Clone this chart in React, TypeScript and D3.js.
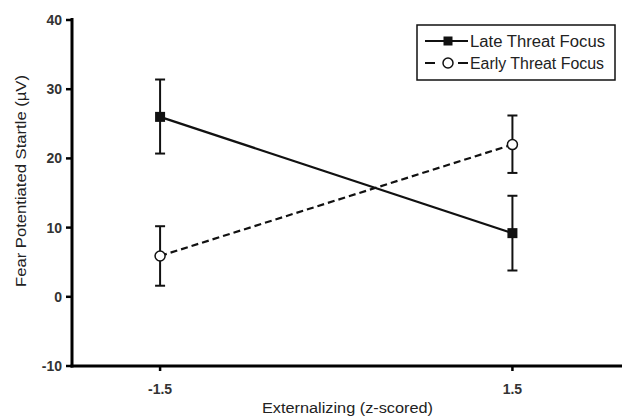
import React from "react";
import * as d3 from "d3";

const xTicks = [-1.5, 1.5];
const yTicks = [-10, 0, 10, 20, 30, 40];
const seriesNames = ["Late Threat Focus", "Early Threat Focus"];
const lateMean = [26, 9.2];
const lateLow = [20.7, 3.8];
const lateHigh = [31.4, 14.6];
const earlyMean = [5.9, 22];
const earlyLow = [1.6, 17.9];
const earlyHigh = [10.2, 26.2];

const W = 622;
const H = 417;

export default function App() {
  const x = d3.scaleLinear().domain([-2.25, 2.45]).range([72, 624]);
  const y = d3.scaleLinear().domain([-10, 40]).range([366, 20]);
  const font = "'Liberation Sans', Arial, Helvetica, sans-serif";
  const line = d3
    .line<number>()
    .x((_, i) => x(xTicks[i]))
    .y((d) => y(d));

  const series = [
    { name: seriesNames[0], mean: lateMean, low: lateLow, high: lateHigh, dash: undefined, marker: "square", legW: 135 },
    { name: seriesNames[1], mean: earlyMean, low: earlyLow, high: earlyHigh, dash: "7,4", marker: "circle", legW: 134 },
  ];

  return (
    <svg width={W} height={H} style={{ position: "absolute", left: 0, top: 0, background: "#fff" }}>
      <rect width={W} height={H} fill="#fff" />
      {/* error bars */}
      {series.map((s) =>
        s.mean.map((_, i) => {
          const cx = x(xTicks[i]);
          return (
            <g key={s.name + i} stroke="#111" strokeWidth={2}>
              <line x1={cx} x2={cx} y1={y(s.low[i])} y2={y(s.high[i])} />
              <line x1={cx - 5} x2={cx + 5} y1={y(s.low[i])} y2={y(s.low[i])} />
              <line x1={cx - 5} x2={cx + 5} y1={y(s.high[i])} y2={y(s.high[i])} />
            </g>
          );
        })
      )}
      {/* lines */}
      {series.map((s) => (
        <path key={s.name} d={line(s.mean) || ""} fill="none" stroke="#111" strokeWidth={2.2} strokeDasharray={s.dash} />
      ))}
      {/* markers */}
      {series.map((s) =>
        s.mean.map((v, i) =>
          s.marker === "square" ? (
            <rect key={s.name + "m" + i} x={x(xTicks[i]) - 5} y={y(v) - 5} width={10} height={10} fill="#111" />
          ) : (
            <circle key={s.name + "m" + i} cx={x(xTicks[i])} cy={y(v)} r={5} fill="#fff" stroke="#111" strokeWidth={1.5} />
          )
        )
      )}
      {/* axes */}
      <line x1={72} x2={72} y1={18} y2={367.5} stroke="#000" strokeWidth={3} />
      <line x1={70.5} x2={622} y1={366} y2={366} stroke="#000" strokeWidth={3} />
      {yTicks.map((t) => (
        <g key={t}>
          <line x1={66} x2={72} y1={y(t)} y2={y(t)} stroke="#000" strokeWidth={2.5} />
          <text x={62} y={y(t)} dy="0.35em" textAnchor="end" fontFamily={font} fontSize={14} fontWeight="bold" fill="#333">
            {t}
          </text>
        </g>
      ))}
      {xTicks.map((t) => (
        <g key={t}>
          <line x1={x(t)} x2={x(t)} y1={366} y2={371} stroke="#000" strokeWidth={2.5} />
          <text x={x(t)} y={394} textAnchor="middle" fontFamily={font} fontSize={14} fontWeight="bold" fill="#333">
            {t}
          </text>
        </g>
      ))}
      <text x={262} y={413} fontFamily={font} fontSize={14} fill="#222" textLength={171} lengthAdjust="spacingAndGlyphs">
        Externalizing (z-scored)
      </text>
      <text transform={`translate(26,287) rotate(-90)`} fontFamily={font} fontSize={14} fill="#222" textLength={212} lengthAdjust="spacingAndGlyphs">
        Fear Potentiated Startle (µV)
      </text>
      {/* legend */}
      <rect x={417} y={25} width={198} height={55} fill="#fff" stroke="#111" strokeWidth={1.5} />
      {series.map((s, i) => {
        const ly = 41 + i * 22;
        return (
          <g key={s.name + "leg"}>
            <line x1={425} x2={468} y1={ly} y2={ly} stroke="#111" strokeWidth={2} strokeDasharray={s.dash ? "10,23" : undefined} />
            {s.marker === "square" ? (
              <rect x={443.5} y={ly - 4.5} width={9} height={9} fill="#111" />
            ) : (
              <circle cx={448} cy={ly} r={5} fill="#fff" stroke="#111" strokeWidth={1.5} />
            )}
            <text x={470} y={ly} dy="0.36em" fontFamily={font} fontSize={16} fill="#222" textLength={s.legW} lengthAdjust="spacingAndGlyphs">
              {s.name}
            </text>
          </g>
        );
      })}
    </svg>
  );
}
